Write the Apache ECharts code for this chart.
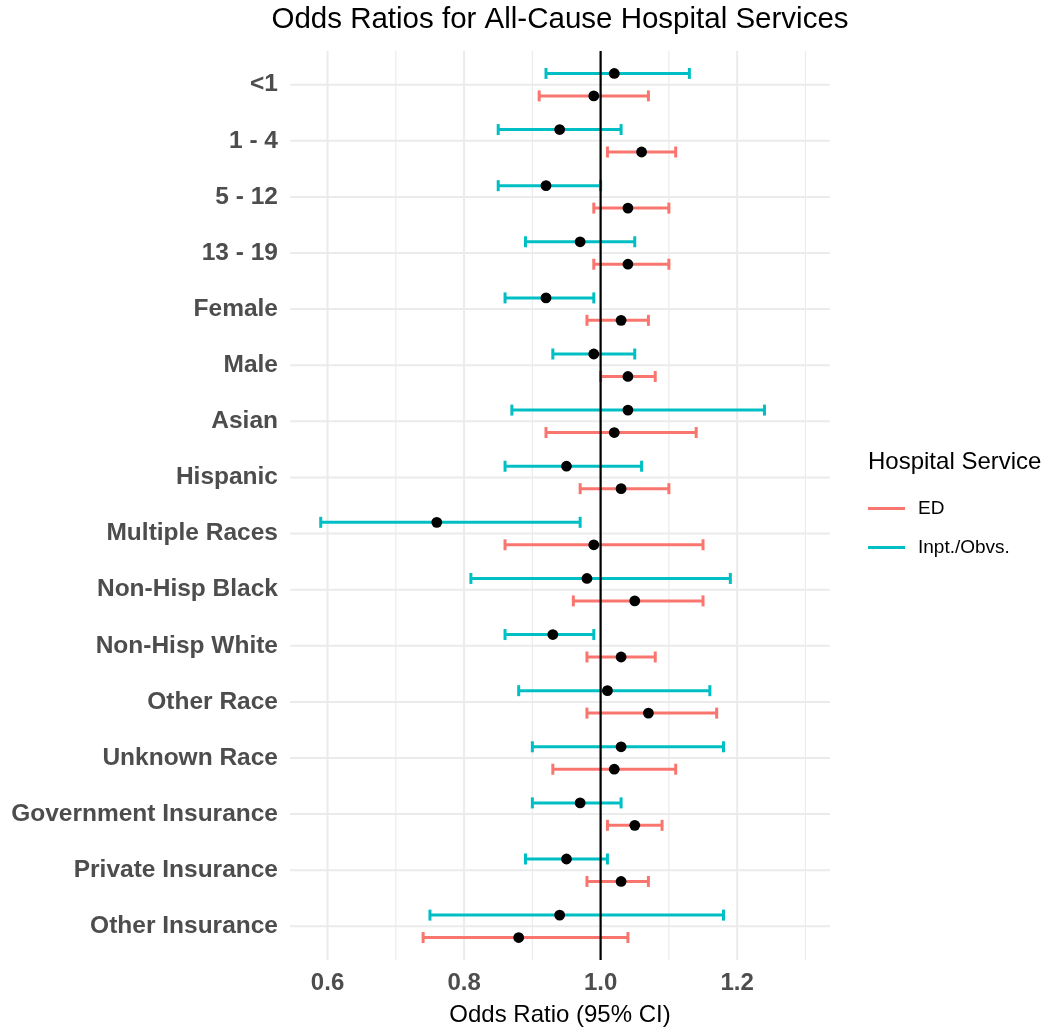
<!DOCTYPE html>
<html>
<head>
<meta charset="utf-8">
<script src="https://cdn.jsdelivr.net/npm/echarts@6/dist/echarts.min.js"></script>
<style>
  html, body { margin: 0; padding: 0; background: #ffffff; }
  #chart { width: 1051px; height: 1032px; }
</style>
</head>
<body>
<div id="chart"></div>
<script>
const categories = ['<1', '1 - 4', '5 - 12', '13 - 19', 'Female', 'Male', 'Asian', 'Hispanic',
  'Multiple Races', 'Non-Hisp Black', 'Non-Hisp White', 'Other Race', 'Unknown Race',
  'Government Insurance', 'Private Insurance', 'Other Insurance'];

const edEst = [0.99, 1.06, 1.04, 1.04, 1.03, 1.04, 1.02, 1.03, 0.99, 1.05, 1.03, 1.07, 1.02, 1.05, 1.03, 0.88];
const edLo  = [0.91, 1.01, 0.99, 0.99, 0.98, 1.00, 0.92, 0.97, 0.86, 0.96, 0.98, 0.98, 0.93, 1.01, 0.98, 0.74];
const edHi  = [1.07, 1.11, 1.10, 1.10, 1.07, 1.08, 1.14, 1.10, 1.15, 1.15, 1.08, 1.17, 1.11, 1.09, 1.07, 1.04];

const ipEst = [1.02, 0.94, 0.92, 0.97, 0.92, 0.99, 1.04, 0.95, 0.76, 0.98, 0.93, 1.01, 1.03, 0.97, 0.95, 0.94];
const ipLo  = [0.92, 0.85, 0.85, 0.89, 0.86, 0.93, 0.87, 0.86, 0.59, 0.81, 0.86, 0.88, 0.90, 0.90, 0.89, 0.75];
const ipHi  = [1.13, 1.03, 1.00, 1.05, 0.99, 1.05, 1.24, 1.06, 0.97, 1.19, 0.99, 1.16, 1.18, 1.03, 1.01, 1.18];

const xMajorTicks = [0.6, 0.8, 1.0, 1.2];
const xMinorTicks = [0.7, 0.9, 1.1, 1.3];
const refValue = 1.0;

const ED_COLOR = '#F8766D';
const IP_COLOR = '#00BFC4';
const FONT = '"Liberation Sans", Arial, sans-serif';

const catIdx = categories.map((c, i) => i);

function errorBarSeries(name, color, lo, hi, offset) {
  return {
    type: 'custom',
    name: name,
    z: 3,
    silent: true,
    itemStyle: { color: color },
    encode: { x: [0, 1], y: 2 },
    data: catIdx.map(i => [lo[i], hi[i], i]),
    renderItem: function (params, api) {
      const i = api.value(2);
      const band = api.size([0, 1])[1];
      const p1 = api.coord([api.value(0), i]);
      const p2 = api.coord([api.value(1), i]);
      const y = p1[1] + offset * band;
      const cap = 5.5;
      const style = { stroke: color, lineWidth: 3, fill: null };
      return {
        type: 'group',
        children: [
          { type: 'line', shape: { x1: p1[0], y1: y, x2: p2[0], y2: y }, style: style },
          { type: 'line', shape: { x1: p1[0], y1: y - cap, x2: p1[0], y2: y + cap }, style: style },
          { type: 'line', shape: { x1: p2[0], y1: y - cap, x2: p2[0], y2: y + cap }, style: style }
        ]
      };
    }
  };
}

function dotSeries(est, offset) {
  return {
    type: 'custom',
    z: 5,
    silent: true,
    encode: { x: 0, y: 1 },
    data: catIdx.map(i => [est[i], i]),
    renderItem: function (params, api) {
      const band = api.size([0, 1])[1];
      const p = api.coord([api.value(0), api.value(1)]);
      return {
        type: 'circle',
        shape: { cx: p[0], cy: p[1] + offset * band, r: 5.4 },
        style: { fill: '#000000', stroke: null }
      };
    }
  };
}

function vGridSeries(values, width) {
  return {
    type: 'custom',
    z: 0,
    silent: true,
    encode: { x: 0, y: 1 },
    data: values.map(v => [v, 0]),
    renderItem: function (params, api) {
      const cs = params.coordSys;
      const x = api.coord([api.value(0), 0])[0];
      return {
        type: 'line',
        shape: { x1: x, y1: cs.y, x2: x, y2: cs.y + cs.height },
        style: { stroke: '#EBEBEB', lineWidth: width }
      };
    }
  };
}

const hGridSeries = {
  type: 'custom',
  z: 0,
  silent: true,
  encode: { x: 0, y: 1 },
  data: catIdx.map(i => [1, i]),
  renderItem: function (params, api) {
    const cs = params.coordSys;
    const y = api.coord([1, api.value(1)])[1];
    return {
      type: 'line',
      shape: { x1: cs.x, y1: y, x2: cs.x + cs.width, y2: y },
      style: { stroke: '#EBEBEB', lineWidth: 2 }
    };
  }
};

const refLineSeries = {
  type: 'custom',
  z: 4,
  silent: true,
  encode: { x: 0, y: 1 },
  data: [[refValue, 0]],
  renderItem: function (params, api) {
    const cs = params.coordSys;
    const x = api.coord([api.value(0), 0])[0];
    return {
      type: 'line',
      shape: { x1: x, y1: cs.y, x2: x, y2: cs.y + cs.height },
      style: { stroke: '#000000', lineWidth: 2.2 }
    };
  }
};

const chart = echarts.init(document.getElementById('chart'), null, { renderer: 'canvas' });

chart.setOption({
  animation: false,
  backgroundColor: '#ffffff',
  textStyle: { fontFamily: FONT },
  grid: { left: 290, right: 221, top: 51, bottom: 71, containLabel: false },
  xAxis: {
    type: 'value',
    min: 0.545,
    max: 1.336,
    axisLine: { show: false },
    axisTick: { show: false, customValues: xMajorTicks },
    splitLine: { show: false },
    axisLabel: {
      customValues: xMajorTicks,
      formatter: v => Number(v).toFixed(1),
      color: '#4D4D4D',
      fontWeight: 'bold',
      fontSize: 24,
      fontFamily: FONT,
      margin: 11
    },
    name: 'Odds Ratio (95% CI)',
    nameLocation: 'middle',
    nameGap: 43,
    nameTextStyle: { color: '#000000', fontSize: 24, fontFamily: FONT }
  },
  yAxis: {
    type: 'value',
    inverse: true,
    min: -0.6,
    max: 15.6,
    axisLine: { show: false },
    axisTick: { show: false, customValues: catIdx },
    splitLine: { show: false },
    axisLabel: {
      customValues: catIdx,
      formatter: v => categories[Math.round(v)],
      color: '#4D4D4D',
      fontWeight: 'bold',
      fontSize: 24.5,
      fontFamily: FONT,
      margin: 12,
      padding: [9, 0, 0, 0]
    }
  },
  legend: {
    data: ['ED', 'Inpt./Obvs.'],
    orient: 'vertical',
    left: 868,
    top: 499,
    padding: 0,
    itemWidth: 37,
    itemHeight: 3,
    itemGap: 20,
    icon: 'rect',
    selectedMode: false,
    textStyle: { color: '#000000', fontSize: 19, fontFamily: FONT, padding: [0, 0, 0, 8] }
  },
  graphic: [
    {
      type: 'text',
      style: {
        text: 'Odds Ratios for All-Cause Hospital Services',
        x: 560, y: 20,
        fontSize: 29.5,
        fontFamily: FONT,
        fill: '#000000',
        textAlign: 'center',
        textVerticalAlign: 'middle'
      }
    },
    {
      type: 'text',
      style: {
        text: 'Hospital Service',
        x: 868, y: 462,
        fontSize: 24,
        fontFamily: FONT,
        fill: '#000000',
        textAlign: 'left',
        textVerticalAlign: 'middle'
      }
    }
  ],
  series: [
    vGridSeries(xMinorTicks, 1.2),
    vGridSeries(xMajorTicks, 2),
    hGridSeries,
    errorBarSeries('ED', ED_COLOR, edLo, edHi, 0.2),
    errorBarSeries('Inpt./Obvs.', IP_COLOR, ipLo, ipHi, -0.2),
    refLineSeries,
    dotSeries(edEst, 0.2),
    dotSeries(ipEst, -0.2)
  ]
});
</script>
</body>
</html>
